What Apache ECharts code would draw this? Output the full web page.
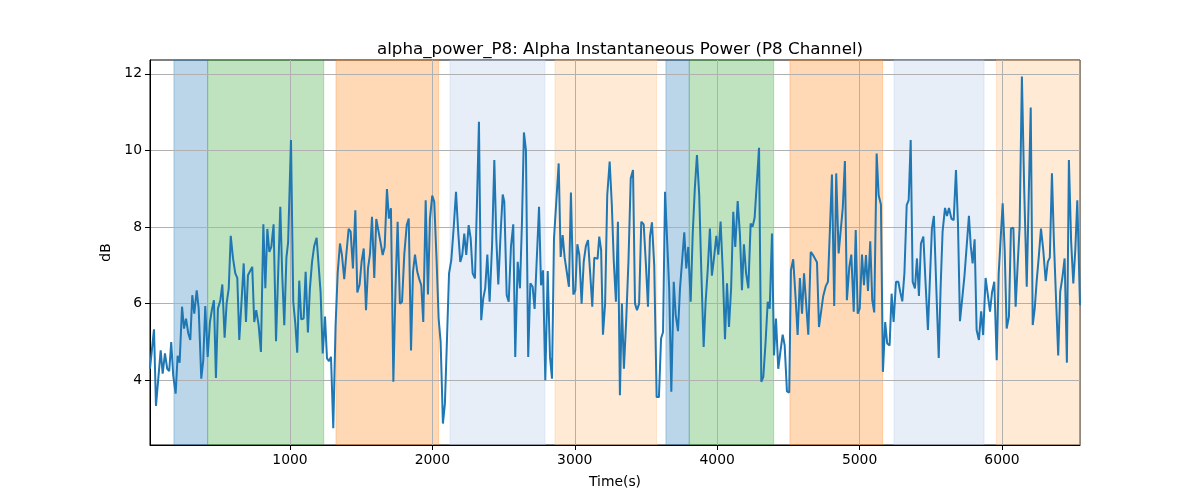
<!DOCTYPE html>
<html><head><meta charset="utf-8">
<script src="https://cdn.jsdelivr.net/npm/echarts@6/dist/echarts.min.js"></script>
<style>html,body{margin:0;padding:0;background:#fff}#c{width:1200px;height:500px}</style>
</head><body><div id="c"></div>
<script>
const times = [17,45,59,92,106,122,138,152,166,180,197,211,225,242,256,270,286,300,314,328,345,359,377,391,405,422,438,452,466,480,494,511,525,541,555,570,584,600,616,630,644,661,675,691,705,719,735,749,763,780,796,813,827,841,855,869,885,902,932,946,960,975,987,1007,1023,1037,1051,1065,1079,1096,1110,1126,1140,1155,1170,1187,1201,1215,1230,1246,1260,1274,1288,1304,1320,1335,1351,1365,1381,1396,1412,1426,1442,1459,1473,1489,1503,1518,1534,1548,1562,1576,1592,1606,1620,1636,1651,1665,1681,1695,1709,1726,1741,1756,1772,1787,1803,1820,1834,1850,1864,1878,1894,1908,1922,1936,1953,1969,1983,1999,2013,2029,2044,2058,2074,2088,2102,2117,2133,2150,2166,2181,2196,2210,2224,2238,2255,2269,2283,2299,2313,2327,2343,2357,2371,2386,2402,2419,2435,2449,2463,2480,2494,2505,2522,2536,2552,2568,2582,2599,2615,2629,2643,2657,2673,2688,2704,2718,2732,2749,2763,2777,2793,2810,2826,2840,2854,2873,2887,2901,2915,2929,2945,2959,2973,2990,3004,3018,3032,3048,3063,3078,3093,3108,3123,3137,3147,3160,3172,3185,3198,3213,3228,3245,3260,3274,3289,3303,3317,3331,3345,3361,3377,3393,3409,3423,3437,3452,3467,3484,3500,3514,3528,3542,3558,3575,3591,3606,3620,3634,3648,3663,3678,3695,3709,3725,3739,3753,3769,3783,3797,3814,3828,3843,3858,3874,3889,3905,3919,3934,3949,3963,3978,3994,4008,4024,4040,4055,4069,4083,4098,4113,4127,4144,4160,4174,4188,4203,4219,4235,4249,4263,4277,4294,4310,4324,4340,4355,4369,4385,4399,4413,4429,4444,4460,4474,4490,4506,4518,4534,4550,4565,4581,4596,4610,4625,4640,4657,4671,4685,4701,4715,4730,4745,4762,4778,4792,4806,4822,4836,4853,4867,4882,4897,4911,4928,4942,4959,4973,4987,5001,5017,5031,5045,5059,5075,5089,5103,5120,5134,5150,5164,5180,5194,5211,5225,5239,5256,5272,5286,5300,5315,5331,5345,5359,5373,5389,5403,5417,5431,5448,5464,5480,5494,5508,5522,5539,5556,5569,5583,5600,5614,5628,5645,5661,5677,5691,5705,5720,5737,5751,5768,5781,5794,5808,5822,5838,5854,5868,5885,5899,5916,5930,5946,5963,5977,5991,6005,6019,6033,6049,6063,6080,6096,6110,6124,6140,6156,6174,6188,6202,6216,6230,6244,6258,6274,6290,6307,6322,6336,6351,6365,6380,6395,6409,6425,6440,6456,6470,6486,6501,6515,6529,6548];
const values = [4.30,5.33,3.33,4.78,4.17,4.70,4.30,4.24,5.00,4.13,3.65,4.64,4.46,5.92,5.35,5.61,5.22,5.05,6.22,5.74,6.35,5.87,4.04,4.52,5.94,4.61,5.52,5.85,6.09,4.06,5.87,6.09,6.50,5.11,6.00,6.40,7.77,7.18,6.79,6.67,5.05,6.13,7.05,5.52,6.74,6.76,6.96,5.52,5.83,5.44,4.74,8.07,6.40,7.95,7.35,7.48,8.07,5.02,8.53,6.70,5.44,7.20,7.60,10.27,6.05,5.50,4.72,6.60,5.59,5.61,6.83,5.25,6.40,7.09,7.50,7.72,7.75,6.30,4.70,5.66,4.57,4.50,4.61,2.75,5.40,6.80,7.57,7.27,6.64,7.30,7.95,7.88,6.92,8.44,6.29,6.50,7.10,7.44,5.83,6.92,7.30,8.27,6.67,8.21,8.22,7.60,7.27,7.48,8.99,8.22,8.49,3.96,6.40,8.14,6.00,6.05,7.30,8.05,8.22,4.78,6.83,7.28,6.83,6.64,6.48,5.52,8.70,6.24,8.22,8.82,8.66,7.20,5.61,5.00,2.87,3.39,5.00,6.79,7.14,8.00,8.92,7.90,7.09,7.27,7.83,7.27,8.05,7.70,6.79,6.66,8.60,10.75,5.57,6.13,6.40,7.28,6.05,7.50,9.75,7.70,6.50,7.90,8.85,8.66,6.22,6.05,7.50,8.07,4.61,7.09,6.40,8.10,10.47,10.01,4.61,6.53,6.44,5.86,5.86,8.53,6.48,6.87,4.00,6.85,4.61,4.04,7.70,8.83,9.66,7.22,7.79,7.20,6.80,6.44,8.90,6.24,6.35,7.55,7.27,6.00,7.10,7.50,7.66,6.80,5.92,7.20,7.16,7.17,7.75,7.40,5.19,6.00,8.83,9.71,8.60,7.10,6.05,8.14,3.61,6.00,4.30,5.55,7.10,9.27,9.49,6.00,5.83,6.00,8.14,8.07,7.00,5.92,7.75,8.12,7.00,3.56,3.56,5.09,5.26,8.92,8.88,6.40,3.70,6.57,5.70,5.28,6.40,6.38,7.86,6.92,7.48,6.05,7.80,9.00,9.88,8.83,6.80,4.87,6.05,6.90,7.96,6.73,7.20,7.77,7.28,8.14,6.80,5.07,6.53,5.39,6.40,8.40,7.48,8.68,7.80,6.35,7.55,6.80,6.40,8.09,8.01,8.24,8.22,10.07,3.96,4.09,5.00,6.05,5.87,7.83,4.65,5.61,4.30,4.75,5.19,4.91,3.71,3.68,6.87,7.16,6.20,5.18,6.67,5.74,6.79,6.00,5.19,7.35,7.28,7.27,7.08,5.39,5.80,6.20,6.45,6.57,7.96,9.37,5.94,9.40,7.31,7.34,8.50,9.72,6.09,6.96,7.28,5.79,7.92,5.74,5.87,7.28,6.48,7.27,6.33,7.63,6.09,5.77,9.92,8.83,8.59,4.22,5.52,4.96,4.91,6.26,5.52,6.57,6.57,6.30,6.06,6.80,8.57,8.70,10.27,6.57,6.40,7.18,6.20,7.57,7.75,6.50,5.31,5.35,7.96,8.29,6.40,4.58,6.40,7.88,8.50,8.29,8.50,8.22,8.18,9.49,8.10,5.54,6.10,6.74,6.79,8.29,7.50,7.05,7.68,5.31,5.05,5.80,5.18,6.67,6.67,5.79,6.29,6.57,4.52,6.79,6.79,8.62,7.40,5.35,5.66,7.96,7.98,5.92,7.00,8.00,11.93,9.00,6.44,8.80,11.12,5.44,5.87,6.60,7.20,7.96,7.40,6.59,7.09,7.20,9.40,7.60,6.10,4.65,6.31,6.70,7.18,4.46,9.75,7.60,6.53,7.40,8.70,5.96];
const xTicks = [1000, 2000, 3000, 4000, 5000, 6000];
const yTicks = [4, 6, 8, 10, 12];
const bandStart = [185, 422, 1323, 2124, 2861, 3640, 3804, 4511, 5242, 5961];
const bandEnd   = [422, 1237, 2044, 2791, 3575, 3804, 4397, 5162, 5874, 6548];
const bandKind  = ['blue', 'green', 'orange', 'lightblue', 'lightorange', 'blue', 'green', 'orange', 'lightblue', 'lightorange'];
const kindColor = {
  blue: 'rgba(31,119,180,0.3)', green: 'rgba(44,160,44,0.3)', orange: 'rgba(255,127,14,0.3)',
  lightblue: 'rgba(174,199,232,0.3)', lightorange: 'rgba(255,187,120,0.3)'
};

const FONT = 'DejaVu Sans';
const chart = echarts.init(document.getElementById('c'), null, {renderer: 'canvas'});
const areas = bandStart.map((s, i) => [
  {xAxis: s, itemStyle: {color: kindColor[bandKind[i]], borderColor: kindColor[bandKind[i]], borderWidth: 1}},
  {xAxis: bandEnd[i]}
]);
chart.setOption({
  animation: false,
  backgroundColor: '#fff',
  title: {
    text: 'alpha_power_P8: Alpha Instantaneous Power (P8 Channel)',
    left: 615, top: 36, textAlign: 'center',
    textStyle: {fontFamily: FONT, fontSize: 16.7, fontWeight: 'normal', color: '#000'}
  },
  grid: {left: 150, right: 120, top: 60, bottom: 55, show: true, borderColor: '#000', borderWidth: 1, backgroundColor: 'transparent', z: 0},
  xAxis: {
    type: 'value', min: 17, max: 6548, z: 2,
    name: 'Time(s)', nameLocation: 'middle', nameGap: 30,
    nameTextStyle: {fontFamily: FONT, fontSize: 13.9, color: '#000'},
    axisLine: {show: true, onZero: false, lineStyle: {color: '#000', width: 1}},
    axisTick: {show: true, inside: false, length: 5, customValues: xTicks, lineStyle: {color: '#000'}},
    axisLabel: {customValues: xTicks, formatter: v => String(v), fontFamily: FONT, fontSize: 13.9, color: '#000', margin: 8},
    splitLine: {show: true, lineStyle: {color: '#b0b0b0', width: 1}}
  },
  yAxis: {
    type: 'value', min: 2.31, max: 12.36, z: 2,
    name: 'dB', nameLocation: 'middle', nameGap: 33,
    nameTextStyle: {fontFamily: FONT, fontSize: 13.9, color: '#000'},
    axisLine: {show: true, onZero: false, lineStyle: {color: '#000', width: 1}},
    axisTick: {show: true, inside: false, length: 5, customValues: yTicks, lineStyle: {color: '#000'}},
    axisLabel: {customValues: yTicks, formatter: v => String(v), fontFamily: FONT, fontSize: 13.9, color: '#000', margin: 8},
    splitLine: {show: true, lineStyle: {color: '#b0b0b0', width: 1}}
  },
  series: [{
    type: 'line',
    data: [],
    z: 1,
    markArea: {silent: true, z: 1, data: areas}
  }, {
    type: 'line',
    data: times.map((t, i) => [t, values[i]]),
    showSymbol: false,
    lineStyle: {color: '#1f77b4', width: 2},
    itemStyle: {color: '#1f77b4'},
    z: 3
  }]
});
</script>
</body></html>
